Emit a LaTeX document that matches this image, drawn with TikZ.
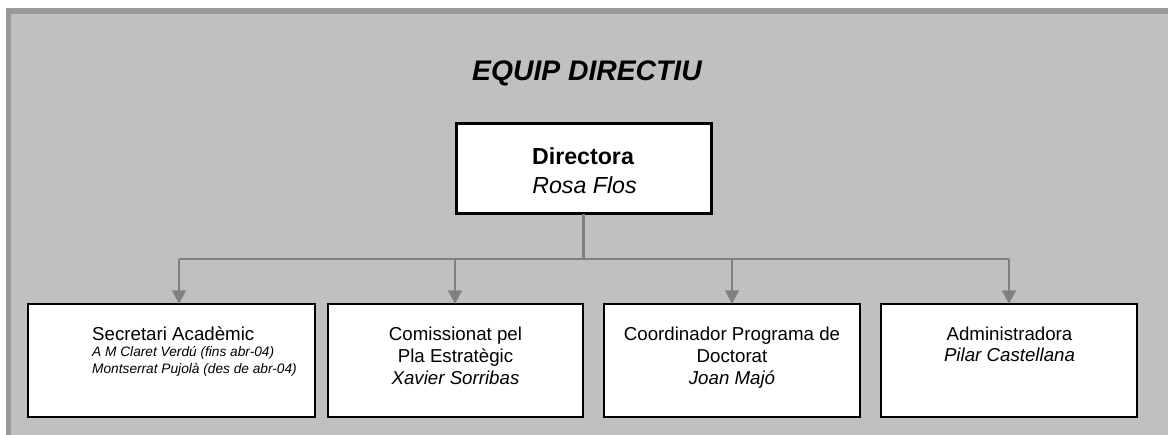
\documentclass[tikz,border=0pt]{standalone}
\usepackage{fontspec}
\setmainfont{Liberation Sans}
\usetikzlibrary{arrows.meta,shadows}
\definecolor{bgc}{HTML}{C0C0C0}
\definecolor{framec}{HTML}{999999}
\definecolor{connc}{HTML}{808080}
\begin{document}
\begin{tikzpicture}[x=1pt,y=-1pt,
  box/.style={draw=black,line width=1.4pt,fill=white,inner sep=0pt,outer sep=0pt,anchor=north west,
    drop shadow={shadow xshift=1.2pt,shadow yshift=-1.2pt,fill=connc,opacity=1}},
  dirbox/.style={draw=black,line width=3pt,fill=white,inner sep=0pt,outer sep=0pt,anchor=north west},
  lbl/.style={inner sep=0pt,anchor=base,font=\fontsize{18.7}{22}\selectfont},
  lbli/.style={lbl,font=\fontsize{18.7}{22}\selectfont\itshape},
  small/.style={inner sep=0pt,anchor=base west,font=\fontsize{13.7}{17}\selectfont\itshape},
  line/.style={draw=connc,line width=2.4pt},
  arr/.style={line,-{Triangle[length=13.5pt,width=13.5pt]}}]
\useasboundingbox (0,0) rectangle (1168,435);
\fill[white] (0,0) rectangle (1168,435);
\fill[framec] (6,8) rectangle (1168,435);
\fill[bgc] (11,14) rectangle (1168,435);

\node[inner sep=0pt,anchor=base,font=\fontsize{28.3}{32}\selectfont\bfseries\itshape] (title) at (587,81) {EQUIP DIRECTIU};

\node[dirbox,minimum width=255pt,minimum height=90pt] (dir) at (456,124) {};
\node[inner sep=0pt,anchor=base,font=\fontsize{23.2}{27}\selectfont\bfseries] (dira) at (583,164.3) {Directora};
\node[inner sep=0pt,anchor=base,font=\fontsize{23.2}{27}\selectfont\itshape] (dirb) at (584.5,193.3) {Rosa Flos};

\node[box,minimum width=287pt,minimum height=113pt] (b1) at (28,304) {};
\node[box,minimum width=255pt,minimum height=113pt] (b2) at (328,304) {};
\node[box,minimum width=256pt,minimum height=113pt] (b3) at (604,304) {};
\node[box,minimum width=256pt,minimum height=113pt] (b4) at (881,304) {};

\node[lbl,anchor=base west] (t1a) at (92,340.7) {Secretari Acadèmic};
\node[small] (t1b) at (92,357) {A M Claret Verdú (fins abr-04)};
\node[small] (t1c) at (92,373.5) {Montserrat Pujolà (des de abr-04)};

\node[lbl] (t2a) at (455.5,340.7) {Comissionat pel};
\node[lbl] (t2b) at (455.5,363) {Pla Estratègic};
\node[lbli] (t2c) at (455.5,385) {Xavier Sorribas};

\node[lbl] (t3a) at (732,340.7) {Coordinador Programa de};
\node[lbl] (t3b) at (732,363) {Doctorat};
\node[lbli] (t3c) at (732,385) {Joan Majó};

\node[lbl] (t4a) at (1009.5,340.7) {Administradora};
\node[lbli] (t4b) at (1009.5,361.7) {Pilar Castellana};

\coordinate (jn) at (583,259);
\coordinate (a1) at (179,259);
\coordinate (a2) at (455,259);
\coordinate (a3) at (732,259);
\coordinate (a4) at (1009,259);
\draw[line] (dir.south) -- (dir.south |- jn);
\draw[line] (a1) -- (a4);
\draw[arr] (a1) -- (a1 |- b1.north);
\draw[arr] (a2) -- (a2 |- b2.north);
\draw[arr] (a3) -- (a3 |- b3.north);
\draw[arr] (a4) -- (a4 |- b4.north);
\end{tikzpicture}
\end{document}
